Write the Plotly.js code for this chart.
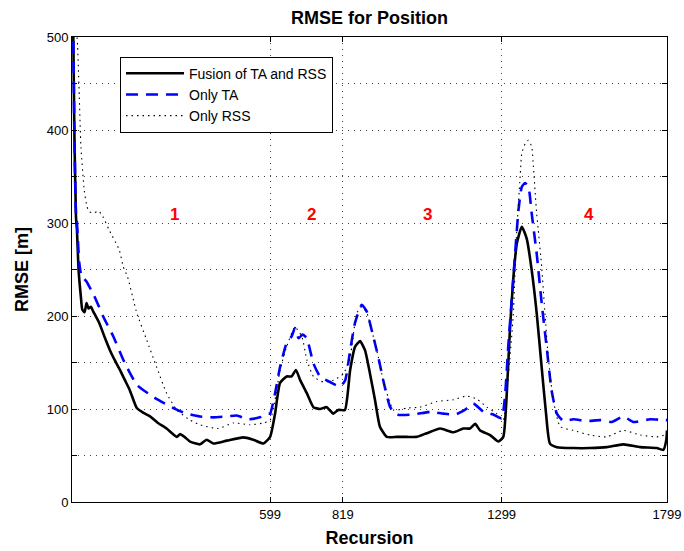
<!DOCTYPE html>
<html>
<head>
<meta charset="utf-8">
<script src="https://cdn.plot.ly/plotly-3.0.1.min.js"></script>
<style>html,body{margin:0;padding:0;background:#fff;}#chart{width:684px;height:551px;}</style>
</head>
<body>
<div id="chart"></div>
<script>
// ---- Data ----
const fusionX = [0, 4, 7, 12, 15, 20, 27, 31, 38, 44, 50, 57, 64, 83, 100, 115, 130, 145, 160, 175, 196, 215, 236, 260, 286, 317, 327, 340, 357, 387, 407, 427, 468, 518, 548, 579, 599, 614, 629, 649, 664, 677, 690, 710, 730, 750, 770, 790, 805, 825, 841, 856, 871, 886, 901, 916, 931, 952, 982, 1012, 1042, 1073, 1113, 1153, 1183, 1203, 1219, 1234, 1264, 1289, 1304, 1314, 1324, 1334, 1345, 1360, 1375, 1390, 1405, 1420, 1433, 1445, 1466, 1516, 1566, 1617, 1667, 1718, 1768, 1788, 1797, 1799];
const fusionY = [560, 500, 400, 307, 292, 249, 220, 207, 204, 214, 208, 210, 205, 192, 176, 163, 152, 142, 131, 120, 101, 96, 92, 85, 79, 70, 73, 70, 65, 62, 67, 63, 66, 69.5, 67, 63, 70, 95, 128, 135, 135, 142, 131, 117, 102, 100, 102, 95, 99, 99, 142, 167, 173, 163, 138, 110, 81, 70, 70, 70, 70, 74, 79, 75, 79, 79, 84, 77, 72, 65, 70, 113, 185, 239, 278, 296, 283, 249, 203, 145, 96, 63, 59, 58, 58, 59, 62, 59, 58, 56, 67, 77];

const taX = [0, 4, 7, 12, 15, 19, 22, 29, 32, 44, 47, 64, 73, 95, 125, 155, 196, 246, 306, 347, 387, 427, 468, 498, 533, 568, 594, 599, 614, 629, 649, 664, 674, 685, 697, 710, 730, 750, 780, 810, 826, 841, 856, 876, 891, 906, 926, 941, 962, 982, 1032, 1083, 1123, 1158, 1188, 1213, 1244, 1274, 1299, 1309, 1319, 1334, 1350, 1360, 1370, 1380, 1390, 1405, 1420, 1435, 1450, 1466, 1486, 1516, 1556, 1597, 1632, 1667, 1697, 1748, 1793, 1799];
const taY = [560, 500, 400, 310, 300, 274, 257, 242, 242, 237, 235, 224, 217, 199, 178, 153, 126, 113, 101, 95, 92, 91, 92, 93, 89, 91, 95, 95, 117, 145, 171, 178, 187, 176, 180, 176, 149, 135, 129, 124, 131, 163, 193, 212, 205, 185, 156, 131, 102, 94, 94, 97, 95, 94, 99, 106, 97, 94, 90, 113, 167, 239, 314, 339, 343, 339, 310, 267, 214, 167, 120, 95, 87, 89, 87, 88, 86, 92, 86, 89, 88, 88];

const rssX = [0, 10, 17, 22, 27, 37, 45, 52, 67, 80, 93, 113, 143, 155, 168, 188, 196, 226, 256, 286, 317, 357, 387, 442, 488, 538, 579, 599, 614, 629, 649, 674, 695, 710, 730, 760, 790, 821, 841, 861, 876, 891, 906, 926, 941, 972, 1012, 1052, 1103, 1153, 1193, 1223, 1254, 1284, 1304, 1319, 1334, 1343, 1355, 1360, 1370, 1380, 1390, 1395, 1400, 1405, 1410, 1420, 1430, 1440, 1455, 1476, 1516, 1566, 1617, 1667, 1718, 1768, 1793, 1799];
const rssY = [600, 530, 490, 436, 382, 335, 318, 312, 311, 313, 307, 292, 271, 253, 242, 214, 203, 174, 145, 117, 99, 88, 83, 79, 85, 83, 85, 88, 110, 142, 167, 188, 178, 153, 135, 129, 131, 138, 156, 203, 210, 204, 185, 156, 131, 99, 101, 102, 108, 110, 114, 111, 102, 95, 88, 135, 200, 280, 350, 375, 385, 389, 382, 361, 335, 310, 292, 253, 203, 156, 110, 81, 77, 72, 70, 77, 72, 70, 72, 72];

const seriesNames = ['Fusion of TA and RSS', 'Only TA', 'Only RSS'];
const xTickVals = [599, 819, 1299, 1799];
const xTickText = ['599', '819', '1299', '1799'];
const yTickVals = [0, 50, 100, 150, 200, 250, 300, 350, 400, 450, 500];
const yTickText = ['0', '', '100', '', '200', '', '300', '', '400', '', '500'];
const regionLabels = ['1', '2', '3', '4'];
const regionX = [311, 725, 1074, 1564];
const regionY = [309, 309, 309, 309];

// ---- Chart ----
const FONT = 'Liberation Sans, Arial, Helvetica, sans-serif';
const traces = [
  {x: fusionX, y: fusionY, name: seriesNames[0], mode: 'lines',
   line: {color: '#000000', width: 2.6, shape: 'spline', smoothing: 0.5}},
  {x: taX, y: taY, name: seriesNames[1], mode: 'lines',
   line: {color: '#0000ff', width: 2.6, dash: '12px,8px', shape: 'spline', smoothing: 0.5}},
  {x: rssX, y: rssY, name: seriesNames[2], mode: 'lines',
   line: {color: '#000000', width: 1.1, dash: '1.5px,4px', shape: 'spline', smoothing: 0.5}}
];

const annotations = regionLabels.map((t, i) => ({
  x: regionX[i], y: regionY[i], xref: 'x', yref: 'y', text: t, showarrow: false,
  font: {family: FONT, size: 17, color: '#ff0000', weight: 'bold'}
}));

const layout = {
  width: 684, height: 551,
  margin: {l: 72, r: 17, t: 37, b: 49, pad: 0},
  paper_bgcolor: '#ffffff', plot_bgcolor: '#ffffff',
  font: {family: FONT, size: 13, color: '#000000'},
  title: {text: 'RMSE for Position', x: 0.5, xref: 'paper', xanchor: 'center',
          y: 1 - 18 / 551, yref: 'container', yanchor: 'middle',
          font: {family: FONT, size: 18, weight: 'bold', color: '#000'}},
  xaxis: {range: [0, 1799], tickvals: xTickVals, ticktext: xTickText,
          showline: true, linecolor: '#000', linewidth: 1, mirror: 'ticks',
          ticks: 'inside', ticklen: 5, tickcolor: '#000',
          showgrid: true, gridcolor: '#444', griddash: '1px,5px', gridwidth: 1,
          zeroline: false, tickfont: {size: 13},
          title: {text: 'Recursion', standoff: 10,
                  font: {family: FONT, size: 18, weight: 'bold'}}},
  yaxis: {range: [0, 500], tickvals: yTickVals, ticktext: yTickText,
          showline: true, linecolor: '#000', linewidth: 1, mirror: 'ticks',
          ticks: 'inside', ticklen: 5, tickcolor: '#000',
          showgrid: true, gridcolor: '#444', griddash: '1px,5px', gridwidth: 1,
          zeroline: false, tickfont: {size: 13},
          title: {text: 'RMSE [m]', standoff: 13,
                  font: {family: FONT, size: 18, weight: 'bold'}}},
  showlegend: true,
  legend: {x: 0.0807, y: 0.9577, xanchor: 'left', yanchor: 'top',
           bgcolor: '#ffffff', bordercolor: '#000', borderwidth: 1,
           font: {family: FONT, size: 14}, itemwidth: 58, tracegroupgap: 0},
  annotations: annotations
};

Plotly.newPlot('chart', traces, layout, {displayModeBar: false, staticPlot: true});
</script>
</body>
</html>
